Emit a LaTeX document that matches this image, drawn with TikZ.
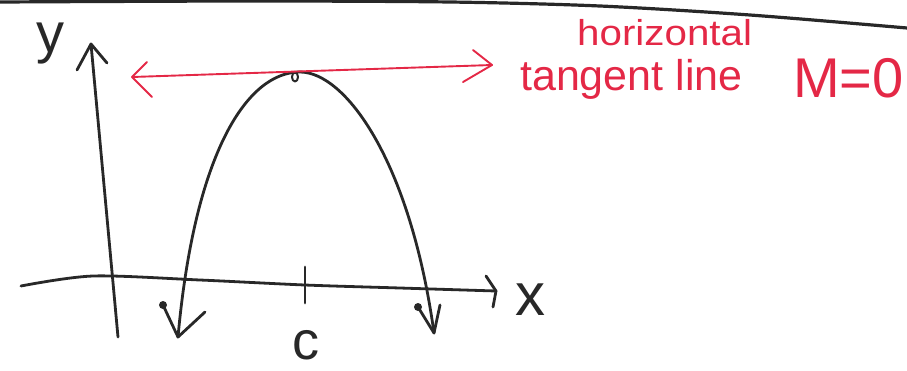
\documentclass[tikz,border=0pt]{standalone}
\usepackage{fontspec}
\setmainfont{Liberation Sans}
\definecolor{penred}{RGB}{228,40,70}
\definecolor{penblack}{RGB}{40,40,40}
\begin{document}
\begin{tikzpicture}[x=1pt,y=-1pt,
  ink/.style={line width=2.8pt,draw=penblack,line cap=round,line join=round},
  redink/.style={line width=1.9pt,draw=penred,line cap=round,line join=round},
  lbl/.style={inner sep=0pt,text=penblack},
  redlbl/.style={inner sep=0pt,text=penred,anchor=base west}]
\useasboundingbox (0,0) rectangle (907,370);
% top border
\draw[ink,line width=3.2pt] plot[smooth] coordinates {(0,2) (250,1) (450,2) (600,6) (750,15) (907,28)};
% y axis
\coordinate (yb) at (118,337);
\coordinate (yt) at (91,44);
\draw[ink] (yb) -- (yt);
\draw[ink] (77,70) -- (yt) -- (107,63);
\node[lbl,font=\fontsize{56}{56}\selectfont] (lbly) at (50,44) {y};
% x axis
\coordinate (xl) at (21,286);
\coordinate (xr) at (496,291);
\draw[ink] plot[smooth] coordinates {(xl) (93,276) (200,280) (305,285) (400,288) (xr)};
\draw[ink] (486,276) -- (xr) -- (493,307);
\node[lbl,font=\fontsize{60}{60}\selectfont] (lblx) at (530,300) {x};
% tick at c
\coordinate (ct) at (305,267);
\coordinate (cb) at (305,303);
\draw[ink] (ct) -- (cb);
\node[lbl,font=\fontsize{54}{54}\selectfont] (lblc) at (306,345) {c};
% parabola
\coordinate (vx) at (300,72);
\coordinate (lt) at (178,337);
\coordinate (rt) at (434,333);
\draw[ink] (lt) .. controls (195,150) and (248,72) .. (vx) .. controls (345,72) and (410,160) .. (rt);
\draw[ink] (163,305) -- (lt) -- (205,312);
\draw[ink] (418,307) -- (rt) -- (440,305);
\fill[penblack] (163,305) circle (4pt);
\fill[penblack] (418,307) circle (4pt);
\draw[ink,line width=2pt] (295,77) ellipse (3pt and 4.5pt);
% red tangent line
\coordinate (tl) at (132,77);
\coordinate (tr) at (492,65);
\draw[redink] (tl) -- (tr);
\draw[redink] (147,62) -- (tl) -- (152,97);
\draw[redink] (473,50) -- (tr) -- (463,82);
% red text
\node[redlbl,font=\fontsize{36}{36}\selectfont,xscale=1.12] (t1) at (577,45) {horizontal};
\node[redlbl,font=\fontsize{43}{43}\selectfont] (t2) at (520,90) {tangent line};
\node[redlbl,font=\fontsize{56}{56}\selectfont] (t3) at (793,97) {M=0};
\end{tikzpicture}
\end{document}
